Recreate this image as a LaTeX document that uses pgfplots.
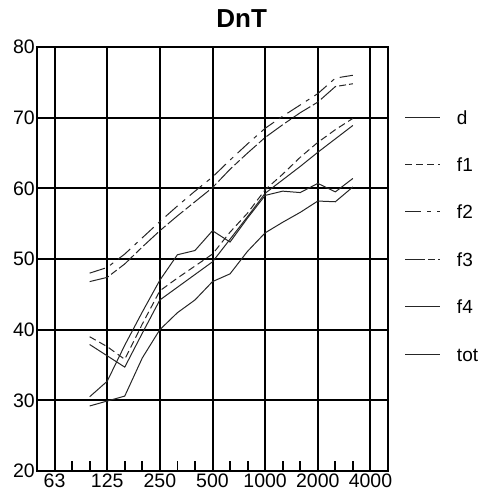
\documentclass[border=0pt]{standalone}
\usepackage{fontspec}
\setmainfont{Liberation Sans}
\usepackage{pgfplots}
\pgfplotsset{compat=1.18}
\usepackage{pgfplotstable}
\pgfplotstableread{
x d f1 f2 f3 f4 tot
3 30.5 39.0 48.0 46.8 37.9 29.2
4 32.7 37.6 48.8 47.4 36.3 29.9
5 37.8 35.8 50.7 49.3 34.7 30.6
6 42.5 40.8 53.0 51.7 39.5 36.0
7 47.0 45.5 55.3 54.0 44.2 40.0
8 50.6 47.3 57.5 56.1 46.0 42.4
9 51.2 49.0 59.6 58.1 47.8 44.2
10 54.0 50.7 61.6 60.1 49.6 46.8
11 52.4 53.8 64.0 62.7 52.8 47.9
12 55.8 56.5 66.3 65.0 56.0 51.1
13 59.0 59.8 68.5 67.2 59.3 53.7
14 59.6 62.0 70.2 69.0 61.2 55.2
15 59.4 64.4 71.8 70.7 63.1 56.6
16 60.7 66.5 73.4 72.2 65.1 58.2
17 59.5 68.3 75.6 74.4 67.0 58.1
18 61.4 69.9 76.0 74.8 68.9 60.2
}\dnt
\begin{document}
\begin{tikzpicture}
\begin{axis}[name=ax, scale only axis, width=351pt, height=424pt,
  xmin=0, xmax=20, ymin=20, ymax=80,
  xtick={1,4,7,10,13,16,19}, xticklabels={63,125,250,500,1000,2000,4000},
  minor xtick={2,3,5,6,8,9,11,12,14,15,17,18},
  ytick={20,30,...,80},
  grid=major, major grid style={black, line width=2pt},
  axis line style={black, line width=2pt},
  tick align=inside, major tick length=0pt, minor tick length=10pt,
  minor tick style={black, line width=1.8pt},
  xtick pos=left, ytick pos=left,
  tick label style={font=\fontsize{19.5}{19.5}\selectfont},
  /pgf/number format/assume math mode=true,
  xticklabel style={inner sep=0pt, anchor=north, yshift=-2.7pt},
  yticklabel style={inner sep=0pt, anchor=east, xshift=-2pt},
  title={DnT},
  title style={font=\fontsize{26}{26}\selectfont\bfseries, at={(axis description cs:0.583,1)}, anchor=base, inner sep=0pt, yshift=13.7pt},
  legend style={draw=none, fill=none, at={(axis description cs:1.0484,0.8514)}, anchor=north west, inner sep=0pt, outer sep=0pt, row sep=33.4pt, column sep=16pt, font=\fontsize{19}{19}\selectfont, nodes={inner sep=0pt, text height=14pt, text depth=0pt}},
  legend image code/.code={\draw[#1] (0pt,0pt) -- (35pt,0pt);},
  legend cell align=left,
]
\addplot[black!85, line width=1pt] table[x=x,y=d]{\dnt};
\addlegendentry{d}
\addplot[black!85, line width=1pt, dash pattern=on 7pt off 4pt] table[x=x,y=f1]{\dnt};
\addlegendentry{f1}
\addplot[black!85, line width=1pt, dash pattern=on 16pt off 6pt on 4pt off 6pt] table[x=x,y=f2]{\dnt};
\addlegendentry{f2}
\addplot[black!85, line width=1pt, dash pattern=on 20pt off 3pt on 7pt off 3pt] table[x=x,y=f3]{\dnt};
\addlegendentry{f3}
\addplot[black!85, line width=1pt] table[x=x,y=f4]{\dnt};
\addlegendentry{f4}
\addplot[black!85, line width=1pt] table[x=x,y=tot]{\dnt};
\addlegendentry{tot}
\end{axis}
\pgfresetboundingbox
\path ([shift={(-37pt,-21pt)}]ax.south west) rectangle ([shift={(93pt,47pt)}]ax.north east);
\end{tikzpicture}
\end{document}
